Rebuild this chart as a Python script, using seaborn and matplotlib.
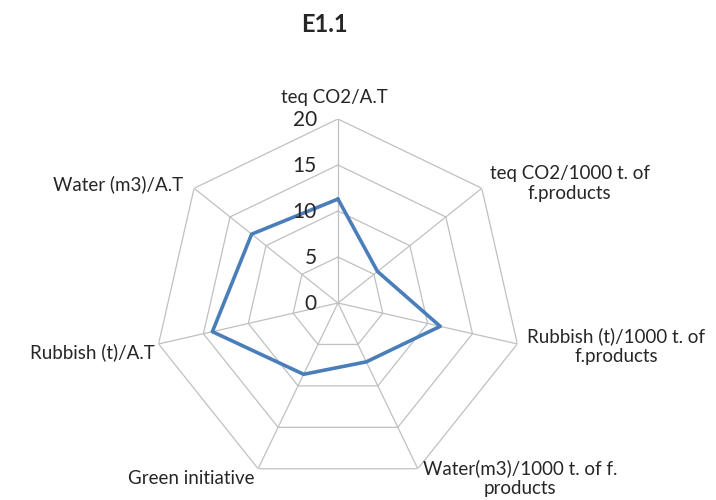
"""Radar chart of environmental indicators for E1.1."""

import numpy as np
import pandas as pd
import matplotlib
matplotlib.use("Agg")
import matplotlib.pyplot as plt
import seaborn as sns

categories = [
    "teq CO2/A.T",
    "teq CO2/1000 t. of\nf.products",
    "Rubbish (t)/1000 t. of\nf.products",
    "Water(m3)/1000 t. of f.\nproducts",
    "Green initiative",
    "Rubbish (t)/A.T",
    "Water (m3)/A.T",
]
values = [11.3, 5.5, 11.4, 7.1, 8.6, 14.0, 12.0]
rings = [5, 10, 15, 20]
tick_labels = ["0", "5", "10", "15", "20"]

# label placement: offset from outer vertex in pixels, alignment
label_offsets = [(-4, 22), (8, 5), (10, -2), (5, -9), (-4, -10), (-4, -8), (-11, 4)]
label_ha = ["center", "left", "left", "left", "right", "right", "right"]

sns.set_theme(style="white")
plt.rcParams["font.family"] = ["Lato", "DejaVu Sans"]

n = len(categories)
theta = np.arange(n) * 2 * np.pi / n

fig = plt.figure(figsize=(7.16, 5.0), dpi=100)
ax = fig.add_axes([0.215, 0.026, 0.514, 0.736], projection="polar")
ax.set_theta_zero_location("N")
ax.set_theta_direction(-1)
ax.set_ylim(0, 20)
ax.grid(False)
ax.spines["polar"].set_visible(False)
ax.set_xticks([])
ax.set_yticks([])
ax.patch.set_alpha(0)

grid_col = "#c0c0c0"
closed = np.append(theta, 2 * np.pi)
for r in rings:
    ax.plot(closed, [r] * (n + 1), color=grid_col, lw=0.9, zorder=1)
for t in theta:
    ax.plot([t, t], [0, 20], color=grid_col, lw=0.9, zorder=1)

df = pd.DataFrame({"theta": closed, "value": values + [values[0]],
                   "order": np.arange(n + 1)})
sns.lineplot(data=df, x="theta", y="value", sort=False, estimator=None,
             ax=ax, color="#4a7ebb", lw=2.6, zorder=3)
ax.set_xlabel("")
ax.set_ylabel("")
ax.set_ylim(0, 20)

px = 72 / fig.dpi
for i, lab in enumerate(categories):
    dx, dy = label_offsets[i]
    ax.annotate(lab, xy=(theta[i], 20), xytext=(dx * px, dy * px),
                textcoords="offset points", ha=label_ha[i], va="center",
                multialignment="center", fontsize=13.5, color="#262626",
                annotation_clip=False)

for k, lab in enumerate(tick_labels):
    ax.annotate(lab, xy=(0, k * 5), xytext=(-21 * px, -1 * px),
                textcoords="offset points", ha="right", va="center",
                fontsize=15, color="#262626", annotation_clip=False)

fig.text(324 / 716, 1 - 25 / 500, "E1.1", ha="center", va="center",
         fontsize=17, fontweight="bold", color="#262626")

fig.savefig("out.png", dpi=100)
